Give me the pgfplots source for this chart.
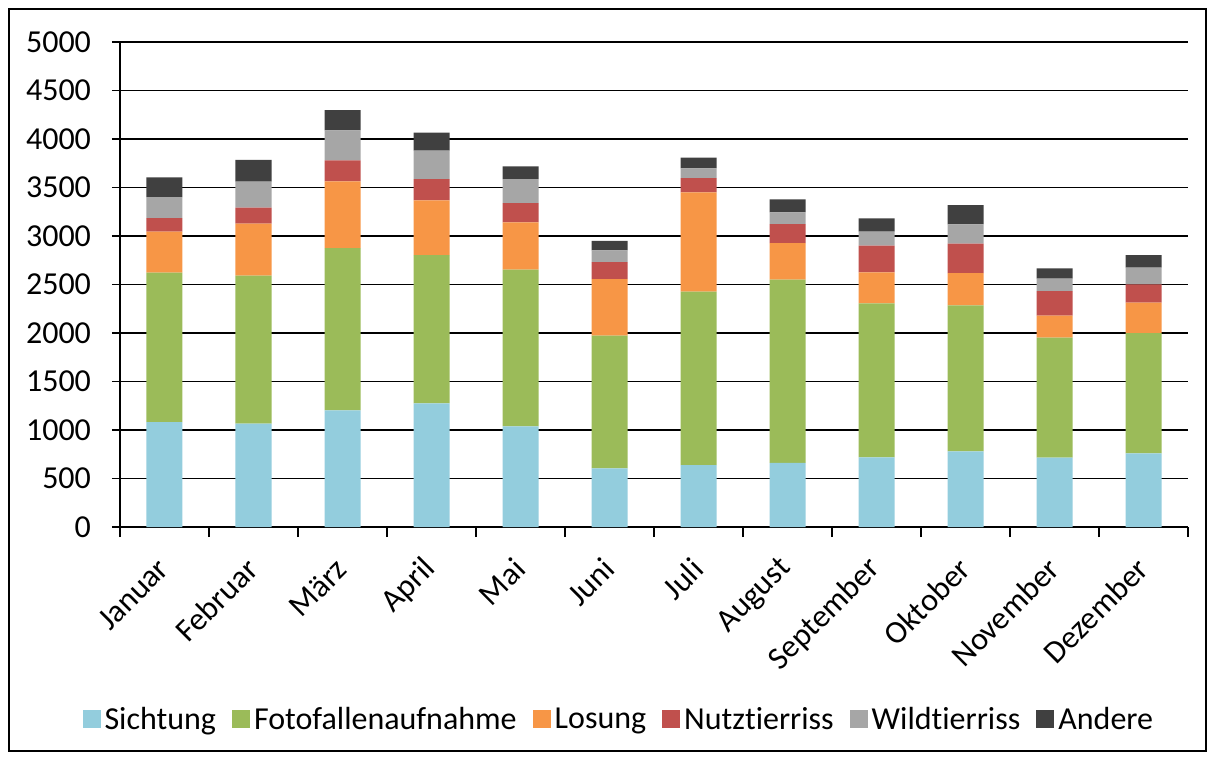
\documentclass[border=0pt]{standalone}
\usepackage{fontspec}
\setmainfont{Carlito}[Ligatures=NoCommon]
\usepackage{pgfplots}
\pgfplotsset{compat=1.18}
\usepackage{pgfplotstable}

\definecolor{cS}{HTML}{93CDDD}
\definecolor{cF}{HTML}{9BBB59}
\definecolor{cL}{HTML}{F79646}
\definecolor{cN}{HTML}{C0504D}
\definecolor{cW}{HTML}{A6A6A6}
\definecolor{cA}{HTML}{404040}

\pgfplotstableread{
x S F L N W A
0 1082 1540 422 141 217 202
1 1065 1526 536 165 268 226
2 1203 1673 687 217 309 209
3 1275 1529 563 220 292 186
4 1038 1615 487 200 247 131
5 605 1367 584 176 120 99
6 639 1787 1024 147 100 110
7 660 1890 377 196 121 134
8 718 1588 319 275 144 138
9 780 1505 333 303 199 199
10 715 1237 226 255 127 106
11 759 1241 312 189 172 131
}\datatable

\begin{document}
\begin{tikzpicture}[font=\fontsize{16}{19}\selectfont]
\path[use as bounding box] (-60pt,-116.5pt) rectangle (547.5pt,263.5pt);
\draw[line width=0.75pt] (-55.5pt,-112pt) rectangle (543pt,259pt);
\begin{axis}[
  at={(0,0)}, anchor=south west,
  scale only axis, width=534pt, height=242.5pt,
  ybar stacked, bar width=18pt,
  xmin=-0.5, xmax=11.5, ymin=0, ymax=5000,
  axis lines*=left,
  axis line style={line width=0.75pt},
  ytick={0,500,...,5000},
  ymajorgrids, grid style={black, line width=0.75pt},
  xtick={0,...,11},
  xticklabels={Januar,Februar,März,April,Mai,Juni,Juli,August,September,Oktober,November,Dezember},
  minor xtick={-0.5,0.5,...,11.5},
  major x tick style={draw=none},
  minor x tick style={draw=black, line width=0.75pt},
  y tick style={draw=black, line width=0.75pt},
  tick align=outside,
  major tick length=4pt, minor tick length=5pt,
  /pgf/number format/assume math mode=true,
  /pgf/number format/1000 sep={},
  yticklabel style={font=\fontsize{16}{19}\selectfont, xshift=-7pt},
  xticklabel style={font=\fontsize{16}{19}\selectfont, xshift=2pt, yshift=-12pt, rotate=45, anchor=east},
  legend style={draw=none, legend columns=-1, at={(axis description cs:0.468,-0.398)}, anchor=center,
    font=\fontsize{16}{19}\selectfont,
    /tikz/every even column/.append style={column sep=6pt}},
  legend image code/.code={\fill[#1] (0pt,-4pt) rectangle (9pt,5pt);},
]
\addplot[fill=cS, draw=none] table[x=x, y=S] {\datatable};
\addplot[fill=cF, draw=none] table[x=x, y=F] {\datatable};
\addplot[fill=cL, draw=none] table[x=x, y=L] {\datatable};
\addplot[fill=cN, draw=none] table[x=x, y=N] {\datatable};
\addplot[fill=cW, draw=none] table[x=x, y=W] {\datatable};
\addplot[fill=cA, draw=none] table[x=x, y=A] {\datatable};
\legend{Sichtung,Fotofallenaufnahme,Losung,Nutztierriss,Wildtierriss,Andere}
\end{axis}
\end{tikzpicture}
\end{document}
